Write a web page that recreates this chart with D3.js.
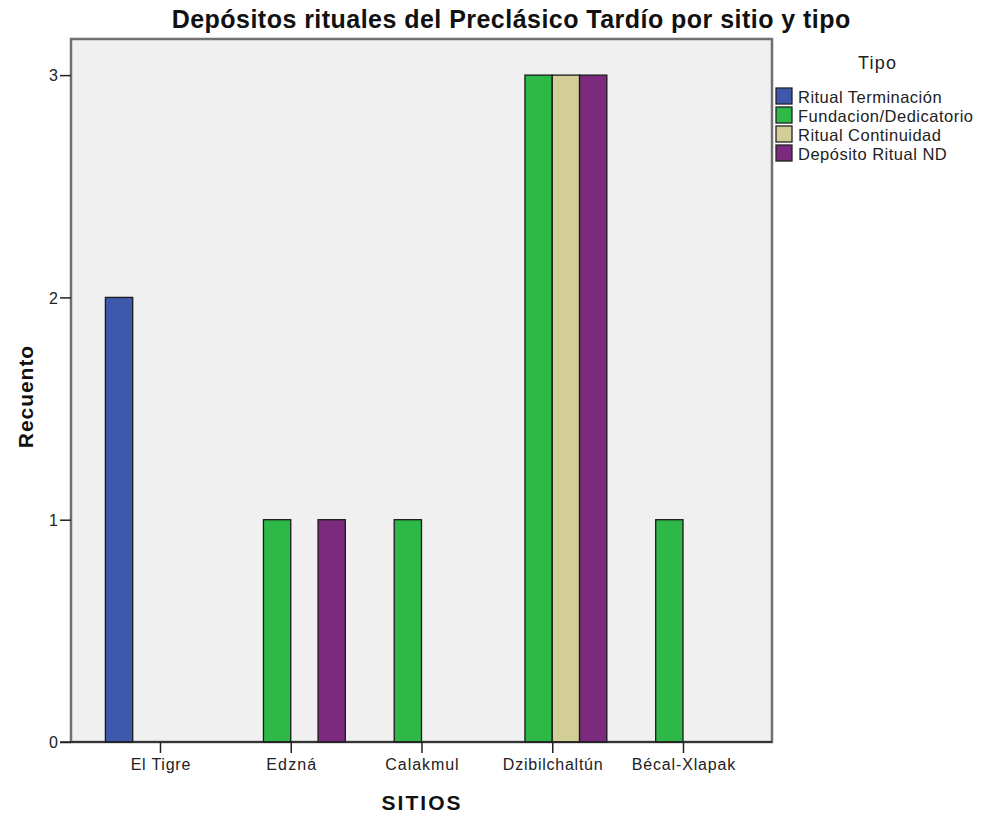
<!DOCTYPE html>
<html><head><meta charset="utf-8">
<script src="https://cdn.jsdelivr.net/npm/d3@7"></script>
<style>body{margin:0;background:#fff}svg{display:block}text{font-family:"Liberation Sans",Arial,sans-serif}</style>
</head><body>
<svg id="c" width="982" height="818"></svg>
<script>
const sitios = ["El Tigre","Edzná","Calakmul","Dzibilchaltún","Bécal-Xlapak"];
const tipos = ["Ritual Terminación","Fundacion/Dedicatorio","Ritual Continuidad","Depósito Ritual ND"];
const colores = ["#3e58ac","#2eb848","#d3ce97","#7b2a7e"];
const ritualTerminacion = [2,0,0,0,0];
const fundacionDedicatorio = [0,1,1,3,1];
const ritualContinuidad = [0,0,0,3,0];
const depositoRitualND = [0,1,0,3,0];
const yTicks = [0,1,2,3];
const series = [ritualTerminacion, fundacionDedicatorio, ritualContinuidad, depositoRitualND];

const svg = d3.select("#c");
const L=71, T=39, R=772, B=742;

function widen(sel, k){
  sel.each(function(){
    const w = this.getComputedTextLength();
    d3.select(this).attr("textLength", w*k).attr("lengthAdjust","spacing");
  });
  return sel;
}

svg.append("rect").attr("x",L).attr("y",T).attr("width",R-L).attr("height",B-T)
  .attr("fill","#f0f0f0").attr("stroke","#707070").attr("stroke-width",2.5);

const x0 = d3.scalePoint().domain(sitios).range([160, 683]);
const bw = 27.3;
const x1 = d3.scaleBand().domain(tipos).range([-2*bw, 2*bw]);
const y = d3.scaleLinear().domain([0, 3.1625]).range([B, T]);

const g = svg.append("g");
sitios.forEach((s,i)=>{
  tipos.forEach((t,j)=>{
    const v = series[j][i];
    if (!v) return;
    g.append("rect")
      .attr("x", x0(s)+x1(t)).attr("y", y(v))
      .attr("width", x1.bandwidth()).attr("height", y(0)-y(v))
      .attr("fill", colores[j]).attr("stroke","#1a1a1a").attr("stroke-width",1.3);
  });
});

const ya = svg.append("g").attr("transform",`translate(${L},0)`)
  .call(d3.axisLeft(y).tickValues(yTicks).tickFormat(d3.format("d")).tickSize(11).tickSizeOuter(0).tickPadding(2));
ya.select(".domain").remove();
ya.selectAll("line").attr("stroke","#222").attr("stroke-width",1.5);
ya.selectAll("text").attr("font-size",16).attr("fill","#222").attr("dy","0.36em");

const xa = svg.append("g").attr("transform",`translate(0,${B})`)
  .call(d3.axisBottom(x0).tickSize(11).tickSizeOuter(0).tickPadding(6));
xa.select(".domain").attr("d",`M${L-11},0H${R}`).attr("stroke","#222").attr("stroke-width",1.5);
xa.selectAll("line").attr("stroke","#222").attr("stroke-width",1.5);
widen(xa.selectAll("text").attr("font-size",16).attr("fill","#222"), 1.1);

widen(svg.append("text").attr("x",511).attr("y",28).attr("text-anchor","middle")
  .attr("font-size",25).attr("font-weight","bold").attr("fill","#111")
  .text("Depósitos rituales del Preclásico Tardío por sitio y tipo"), 1.04);
widen(svg.append("text").attr("x",421).attr("y",810).attr("text-anchor","middle")
  .attr("font-size",21).attr("font-weight","bold").attr("fill","#111").text("SITIOS"), 1.15);
widen(svg.append("text").attr("transform","translate(33,397) rotate(-90)").attr("text-anchor","middle")
  .attr("font-size",21).attr("font-weight","bold").attr("fill","#111").text("Recuento"), 1.07);

const lg = svg.append("g");
widen(lg.append("text").attr("x",877).attr("y",69).attr("text-anchor","middle")
  .attr("font-size",18).attr("fill","#222").text("Tipo"), 1.1);
tipos.forEach((t,j)=>{
  const yy = 88 + j*19;
  lg.append("rect").attr("x",776).attr("y",yy).attr("width",16).attr("height",16)
    .attr("fill",colores[j]).attr("stroke","#222").attr("stroke-width",1.3);
  widen(lg.append("text").attr("x",798).attr("y",yy+15).attr("font-size",16.5).attr("fill","#222").text(t), 1.06);
});
</script>
</body></html>
